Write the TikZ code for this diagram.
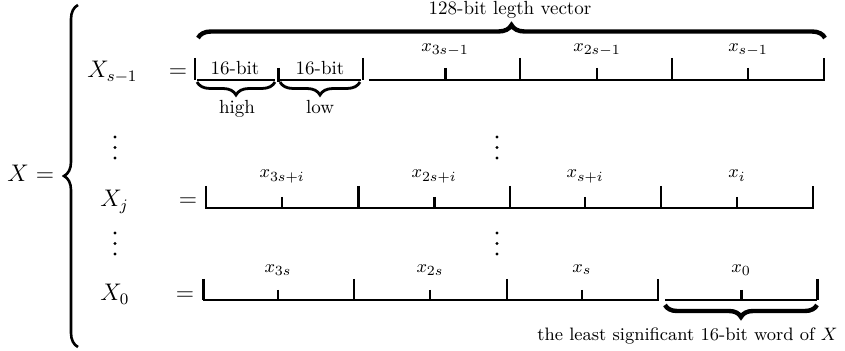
\documentclass[tikz,border=0pt]{standalone}
\usetikzlibrary{decorations.pathreplacing}
\begin{document}
\begin{tikzpicture}[x=0.5pt,y=-0.5pt,
  rowline/.style={line width=0.85pt},
  heavyline/.style={line width=1.5pt},
  lbl/.style={inner sep=0pt, anchor=base, font=\fontsize{9.5}{11}\selectfont},
  note/.style={inner sep=0pt, font=\fontsize{9}{11}\selectfont},
  big/.style={inner sep=0pt, anchor=base, font=\fontsize{11.5}{14}\selectfont},
  bracedraw/.style={decorate, decoration={brace, amplitude=#1}},
  dotmark/.style={fill=black}]
\useasboundingbox (0,0) rectangle (845,351);

% left side
\node[big, anchor=base west] (X) at (7,182) {$X$};
\node[big] (Xeq) at (45,182) {$=$};
\draw[bracedraw=7pt, line width=1.3pt] (78,347) -- (78,5);

% row labels
\node[big, anchor=base west] (Xs) at (87,78) {$X_{s-1}$};
\node[big] (eq1) at (178,78) {$=$};
\node[big, anchor=base west] (Xj) at (100,207) {$X_j$};
\node[big] (eq2) at (188,207) {$=$};
\node[big, anchor=base west] (X0) at (100,301) {$X_0$};
\node[big] (eq3) at (185,301) {$=$};

% top brace
\draw[bracedraw=6.5pt, line width=2.2pt] (198,38) -- (825,38);
\node[lbl] (vec) at (510,15) {128-bit legth vector};

% row 1
\draw[rowline] (195,58) -- (195,80);
\draw[rowline] (197,80) -- (275,80);
\draw[heavyline] (278,68) -- (278,82);
\draw[rowline] (280,80) -- (361,80);
\draw[rowline] (363,58) -- (363,80);
\draw[rowline] (369,80) -- (824,80) -- (824,58);
\draw[rowline] (520,58) -- (520,80);
\draw[rowline] (672,58) -- (672,80);
\draw[heavyline] (445,68) -- (445,80);
\draw[rowline] (597,68) -- (597,80);
\draw[rowline] (748,68) -- (748,80);
\node[lbl] (hb) at (235,75) {16-bit};
\node[lbl] (lb) at (320,75) {16-bit};
\draw[bracedraw=6.5pt, line width=1.4pt] (275,82) -- (197,82);
\draw[bracedraw=6.5pt, line width=1.4pt] (360,82) -- (280,82);
\node[lbl] (high) at (237,114) {high};
\node[lbl] (low) at (320,114) {low};
\node[lbl] (a1) at (445,52) {$x_{3s-1}$};
\node[lbl] (a2) at (597,52) {$x_{2s-1}$};
\node[lbl] (a3) at (748,52) {$x_{s-1}$};

% dots
\foreach \yy in {137,147.5,158} {
  \fill[dotmark] (115,\yy) circle[radius=0.8pt];
  \fill[dotmark] (497,\yy) circle[radius=0.8pt];
}
\foreach \yy in {233,243.5,254} {
  \fill[dotmark] (115,\yy) circle[radius=0.8pt];
  \fill[dotmark] (497,\yy) circle[radius=0.8pt];
}

% row 2
\draw[rowline] (206,186) -- (206,208) -- (813,208) -- (813,186);
\draw[heavyline] (358,186) -- (358,208);
\draw[rowline] (510,186) -- (510,208);
\draw[rowline] (661,186) -- (661,208);
\draw[rowline] (282,197) -- (282,208);
\draw[heavyline] (434,197) -- (434,208);
\draw[rowline] (585,197) -- (585,208);
\draw[rowline] (737,197) -- (737,208);
\node[lbl] (b1) at (282,178) {$x_{3s+i}$};
\node[lbl] (b2) at (434,178) {$x_{2s+i}$};
\node[lbl] (b3) at (585,178) {$x_{s+i}$};
\node[lbl] (b4) at (737,178) {$x_{i}$};

% row 3
\draw[heavyline] (203,279) -- (203,300.5);
\draw[rowline] (203,300) -- (658,300) -- (658,279);
\draw[rowline] (354,279) -- (354,300);
\draw[rowline] (507,279) -- (507,300);
\draw[rowline] (278,290) -- (278,300);
\draw[rowline] (430,290) -- (430,300);
\draw[rowline] (582,290) -- (582,300);
\draw[rowline] (665,300) -- (817,300);
\draw[heavyline] (817,279) -- (817,300.5);
\draw[heavyline] (741,290) -- (741,300);
\node[lbl] (c1) at (278,273) {$x_{3s}$};
\node[lbl] (c2) at (430,273) {$x_{2s}$};
\node[lbl] (c3) at (582,273) {$x_{s}$};
\node[lbl] (c4) at (741,273) {$x_{0}$};
\draw[bracedraw=6pt, line width=2.2pt] (817,305) -- (665,305);
\node[note, anchor=base east] (lsw) at (838,341) {the least significant 16-bit word of $X$};
\end{tikzpicture}
\end{document}
